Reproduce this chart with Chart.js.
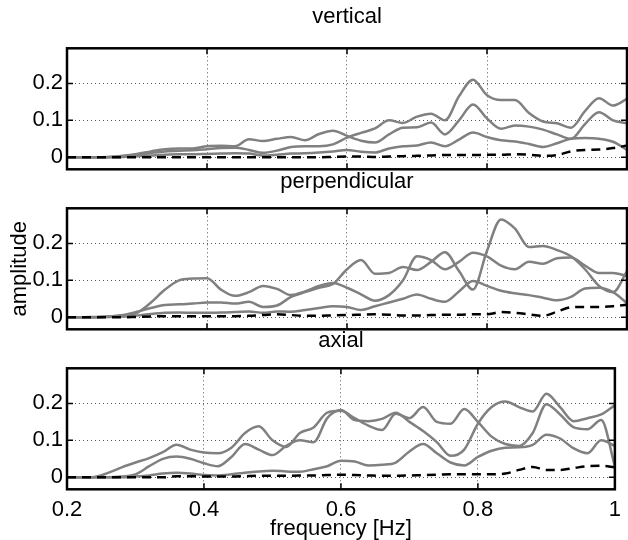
<!DOCTYPE html>
<html><head><meta charset="utf-8">
<script src="https://cdn.jsdelivr.net/npm/chart.js@4/dist/chart.umd.min.js"></script>
<style>
html,body{margin:0;padding:0;background:#fff;}
#wrap{position:relative;width:628px;height:540px;overflow:hidden;}
canvas{position:absolute;left:0;top:0;}
</style></head><body>
<div id="wrap">
<canvas id="c1" width="628" height="540"></canvas>
<canvas id="c2" width="628" height="540"></canvas>
<canvas id="c3" width="628" height="540"></canvas>
</div>
<script>
// ---- data ----
const freq = [0.20,0.22,0.24,0.26,0.28,0.30,0.32,0.34,0.36,0.38,0.40,0.42,0.44,0.46,0.48,0.50,0.52,0.54,0.56,0.58,0.60,0.62,0.64,0.66,0.68,0.70,0.72,0.74,0.76,0.78,0.80,0.82,0.84,0.86,0.88,0.90,0.92,0.94,0.96,0.98,1.00];
const xTicks = [0.2,0.4,0.6,0.8,1.0];
const yTicks = [0,0.1,0.2];
const panelTitles = ['vertical','perpendicular','axial'];
const xLabel = 'frequency [Hz]';
const yLabel = 'amplitude';

// vertical
const vertA = [0,0,0,0.001,0.003,0.006,0.012,0.016,0.018,0.019,0.022,0.025,0.026,0.02,0.012,0.018,0.028,0.03,0.03,0.035,0.053,0.066,0.078,0.1,0.093,0.11,0.118,0.1,0.165,0.21,0.168,0.155,0.155,0.12,0.097,0.092,0.08,0.125,0.16,0.14,0.158];
const vertB = [0,0,0,0.001,0.004,0.009,0.016,0.022,0.024,0.024,0.03,0.031,0.03,0.049,0.044,0.05,0.055,0.046,0.063,0.072,0.058,0.045,0.04,0.062,0.08,0.081,0.094,0.062,0.1,0.143,0.105,0.077,0.086,0.083,0.075,0.062,0.05,0.09,0.122,0.1,0.092];
const vertC = [0,0,0,0,0.001,0.003,0.005,0.007,0.008,0.008,0.009,0.01,0.011,0.01,0.005,0.007,0.01,0.011,0.013,0.016,0.02,0.015,0.013,0.024,0.03,0.032,0.04,0.03,0.048,0.067,0.055,0.046,0.043,0.036,0.028,0.038,0.05,0.052,0.05,0.042,0.02];
const vertD = [0,0,0,0,0,0,0,0,0,0,0,0,0,0,0,0,0,0,0,0.001,0.002,0.002,0.001,0.002,0.003,0.004,0.005,0.006,0.006,0.006,0.007,0.007,0.008,0.007,0.004,0.006,0.016,0.02,0.021,0.025,0.032];

// perpendicular
const perpA = [0,0,0.001,0.002,0.005,0.012,0.04,0.075,0.1,0.105,0.106,0.075,0.058,0.068,0.085,0.077,0.06,0.07,0.085,0.093,0.08,0.062,0.045,0.06,0.1,0.165,0.155,0.13,0.15,0.175,0.165,0.14,0.13,0.15,0.145,0.16,0.162,0.14,0.12,0.12,0.112];
const perpB = [0,0,0,0.002,0.006,0.015,0.025,0.033,0.035,0.037,0.04,0.04,0.037,0.042,0.028,0.032,0.055,0.068,0.08,0.09,0.13,0.155,0.118,0.12,0.136,0.128,0.15,0.176,0.125,0.075,0.18,0.265,0.24,0.19,0.193,0.182,0.165,0.13,0.085,0.068,0.125];
const perpC = [0,0,0,0.001,0.002,0.005,0.009,0.012,0.013,0.012,0.012,0.013,0.014,0.016,0.012,0.016,0.015,0.02,0.025,0.03,0.028,0.02,0.03,0.04,0.05,0.062,0.05,0.042,0.07,0.098,0.085,0.072,0.065,0.06,0.053,0.046,0.055,0.078,0.08,0.068,0.038];
const perpD = [0,0,0,0,0,0.001,0.002,0.003,0.003,0.003,0.003,0.003,0.003,0.004,0.006,0.008,0.006,0.004,0.004,0.005,0.006,0.007,0.008,0.007,0.005,0.005,0.006,0.007,0.007,0.008,0.008,0.014,0.012,0.008,0.004,0.015,0.027,0.028,0.028,0.03,0.034];

// axial
const axA = [0,0,0.001,0.012,0.027,0.04,0.052,0.068,0.088,0.075,0.067,0.065,0.08,0.12,0.138,0.1,0.082,0.12,0.135,0.175,0.18,0.16,0.14,0.128,0.172,0.16,0.19,0.15,0.145,0.185,0.15,0.11,0.09,0.085,0.12,0.198,0.17,0.135,0.13,0.155,0.03];
const axB = [0,0,0,0,0.002,0.008,0.03,0.05,0.056,0.05,0.038,0.03,0.055,0.09,0.075,0.06,0.085,0.1,0.095,0.16,0.182,0.155,0.152,0.158,0.175,0.15,0.125,0.095,0.058,0.075,0.145,0.19,0.205,0.19,0.178,0.226,0.19,0.152,0.16,0.17,0.195];
const axC = [0,0,0,0,0,0.002,0.005,0.01,0.012,0.01,0.006,0.005,0.008,0.012,0.016,0.018,0.016,0.015,0.022,0.03,0.045,0.043,0.032,0.034,0.04,0.07,0.09,0.065,0.04,0.032,0.055,0.072,0.08,0.081,0.088,0.115,0.105,0.078,0.065,0.1,0.085];
const axD = [0,0,0,0,0,0,0,0,0.003,0.003,0.002,0.002,0.002,0.003,0.004,0.004,0.004,0.005,0.005,0.006,0.007,0.006,0.005,0.004,0.004,0.005,0.006,0.007,0.008,0.008,0.008,0.008,0.01,0.02,0.028,0.02,0.02,0.025,0.03,0.031,0.027];

// ---- drawing ----
const FONT = "'Liberation Sans', Arial, Helvetica, sans-serif";
const GRAY = '#808080';

const boxPlugin = {
  id: 'matlabBox',
  afterDraw(chart) {
    const {ctx, chartArea: a, scales} = chart;
    ctx.save();
    ctx.strokeStyle = '#000';
    ctx.lineWidth = 1.5;
    const tl = 6;
    ctx.beginPath();
    xTicks.forEach(v => {
      const x = scales.x.getPixelForValue(v);
      ctx.moveTo(x, a.top); ctx.lineTo(x, a.top + tl);
      ctx.moveTo(x, a.bottom); ctx.lineTo(x, a.bottom - tl);
    });
    yTicks.forEach(v => {
      const y = scales.y.getPixelForValue(v);
      ctx.moveTo(a.left, y); ctx.lineTo(a.left + tl, y);
      ctx.moveTo(a.right, y); ctx.lineTo(a.right - tl, y);
    });
    ctx.stroke();
    ctx.lineWidth = 2.5;
    ctx.strokeRect(a.left, a.top, a.right - a.left, a.bottom - a.top);
    ctx.restore();
  }
};

function pts(arr) { return freq.map((f, i) => ({x: f, y: arr[i]})); }
function fmt(v) { return String(+Number(v).toFixed(1)); }

function makePanel(id, series, cfg) {
  const ds = [
    {data: pts(series[3]), borderColor: '#000', borderDash: [9, 6], borderWidth: 2.5},
    {data: pts(series[0]), borderColor: GRAY, borderWidth: 2.5},
    {data: pts(series[1]), borderColor: GRAY, borderWidth: 2.5},
    {data: pts(series[2]), borderColor: GRAY, borderWidth: 2.5}
  ].map(d => Object.assign(d, {xAxisID: 'x', yAxisID: 'y', pointRadius: 0, fill: false, cubicInterpolationMode: 'monotone'}));
  const font = {family: FONT, size: 22, weight: 'normal', lineHeight: 1.2};
  return new Chart(document.getElementById(id), {
    type: 'line',
    data: {datasets: ds},
    plugins: [boxPlugin],
    options: {
      responsive: false, animation: false, devicePixelRatio: 1,
      layout: {padding: {left: 0, right: 1, top: 0, bottom: cfg.padBottom}},
      plugins: {legend: {display: false}, tooltip: {enabled: false}, title: {display: false}},
      scales: {
        xTop: {
          type: 'linear', position: 'top', min: 0.2, max: 1.0,
          afterFit: ax => { ax.height = cfg.areaTop; },
          grid: {display: false, drawTicks: false},
          border: {display: false},
          ticks: {display: false},
          title: {display: true, text: cfg.title, color: '#000', font: font, padding: {top: cfg.titleTop, bottom: 0}}
        },
        x: {
          type: 'linear', position: 'bottom', min: 0.2, max: 1.0,
          afterBuildTicks: ax => { ax.ticks = xTicks.map(v => ({value: v})); },
          afterFit: ax => { ax.height = cfg.xHeight; },
          grid: {color: '#555', lineWidth: 1, drawTicks: false},
          border: {display: false, dash: [1, 3]},
          ticks: {display: cfg.showX, color: '#000', font: font, padding: 7, maxRotation: 0, autoSkip: false, callback: fmt},
          title: {display: cfg.showX, text: xLabel, color: '#000', font: font, padding: {top: 0, bottom: -2.5}}
        },
        y: {
          min: -0.0325, max: 0.295,
          afterBuildTicks: ax => { ax.ticks = yTicks.map(v => ({value: v})); },
          afterFit: ax => { ax.width = 67; },
          grid: {color: '#555', lineWidth: 1, drawTicks: false},
          border: {display: false, dash: [1, 3]},
          ticks: {color: '#000', font: font, padding: 4, callback: fmt},
          title: {display: cfg.showY, text: yLabel, color: '#000', font: font, padding: {top: 6.3, bottom: 0}}
        }
      }
    }
  });
}

makePanel('c1', [vertA, vertB, vertC, vertD], {title: panelTitles[0], areaTop: 48.3, titleTop: 3.3, padBottom: 370.7, xHeight: 0, showX: false, showY: false});
makePanel('c2', [perpA, perpB, perpC, perpD], {title: panelTitles[1], areaTop: 208.3, titleTop: 168.3, padBottom: 210.7, xHeight: 0, showX: false, showY: true});
makePanel('c3', [axA, axB, axC, axD], {title: panelTitles[2], areaTop: 368.3, titleTop: 327.3, padBottom: 0, xHeight: 50.7, showX: true, showY: false});
</script>
</body></html>
